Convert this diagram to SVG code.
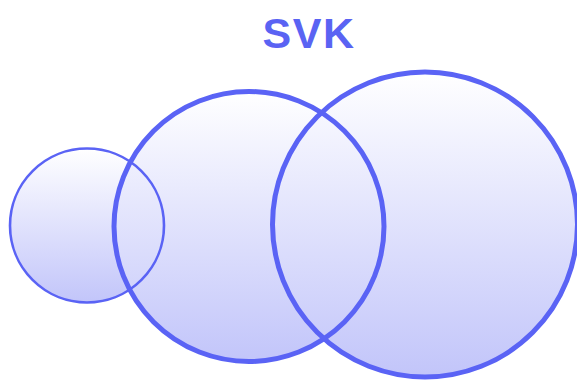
<svg xmlns="http://www.w3.org/2000/svg" width="577" height="381" viewBox="0 0 577 381">
  <style>
    .title { font-family: "Liberation Sans", Arial, sans-serif; font-weight: bold; font-size: 43px; fill: #5a63f3; letter-spacing: 1.5px; }
    .fill { fill: url(#setFill); stroke: none; }
    .outline { fill: none; stroke: #5a63f5; }
    .thin { stroke-width: 2.6; }
    .thick { stroke-width: 5; }
  </style>
  <defs>
    <linearGradient id="setFill" x1="0" y1="0" x2="0" y2="1">
      <stop offset="0" stop-color="#ffffff"/>
      <stop offset="1" stop-color="#c2c5fa"/>
    </linearGradient>
  </defs>
  <rect width="577" height="381" fill="#ffffff"/>
  <text class="title" x="309" y="48" text-anchor="middle">SVK</text>
  <!-- set fills -->
  <g id="small">
    <circle class="fill" cx="87" cy="225.5" r="77"/>
  </g>
  <g id="middle">
    <circle class="fill" cx="249" cy="226.5" r="135"/>
  </g>
  <g id="large">
    <circle class="fill" cx="425" cy="224.5" r="152.5"/>
  </g>
  <!-- set outlines, all drawn above the fills so every edge stays visible -->
  <g id="outlines">
    <circle class="outline thin" cx="87" cy="225.5" r="77"/>
    <circle class="outline thick" cx="249" cy="226.5" r="135"/>
    <circle class="outline thick" cx="425" cy="224.5" r="152.5"/>
  </g>
  <g id="connectors"/>
</svg>
